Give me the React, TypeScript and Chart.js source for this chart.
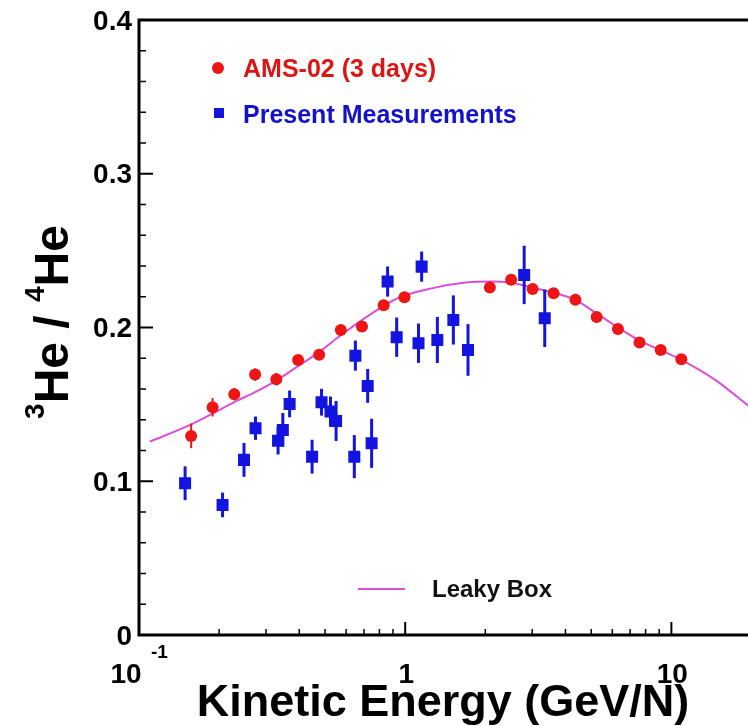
import React, { useEffect, useRef } from 'react';
import { Chart, registerables } from 'chart.js';

Chart.register(...registerables);

const FONT = '"Liberation Sans", Arial, Helvetica, sans-serif';

// AMS-02 (3 days): kinetic energy per nucleon (GeV/N), 3He/4He ratio, error
const amsEnergy = [0.157, 0.189, 0.228, 0.273, 0.328, 0.396, 0.475, 0.573, 0.688, 0.830, 0.994, 2.08, 2.50, 3.01, 3.61, 4.36, 5.24, 6.30, 7.59, 9.12, 10.9];
const amsRatio = [0.1295, 0.1481, 0.1566, 0.1694, 0.1664, 0.1789, 0.1822, 0.1984, 0.2006, 0.2145, 0.2197, 0.2260, 0.2310, 0.2251, 0.2223, 0.2180, 0.2069, 0.1991, 0.1902, 0.1854, 0.1794];
const amsError = [0.008, 0.006, 0.004, 0.004, 0.004, 0.003, 0.003, 0.003, 0.003, 0.003, 0.003, 0.003, 0.003, 0.003, 0.003, 0.003, 0.003, 0.003, 0.003, 0.003, 0.003];

// Present measurements
const presentEnergy = [0.149, 0.206, 0.248, 0.274, 0.333, 0.347, 0.368, 0.447, 0.485, 0.524, 0.550, 0.650, 0.644, 0.723, 0.748, 0.859, 0.929, 1.153, 1.122, 1.321, 1.517, 1.722, 2.799, 3.344];
const presentRatio = [0.0987, 0.0846, 0.1139, 0.1345, 0.1264, 0.1334, 0.1503, 0.1160, 0.1514, 0.1453, 0.1392, 0.1817, 0.1160, 0.1620, 0.1247, 0.2299, 0.1937, 0.2396, 0.1898, 0.1919, 0.2049, 0.1854, 0.2342, 0.2060];
const presentError = [0.011, 0.008, 0.011, 0.0076, 0.009, 0.011, 0.0087, 0.011, 0.0087, 0.0098, 0.013, 0.0098, 0.014, 0.011, 0.016, 0.0098, 0.0128, 0.0098, 0.0128, 0.015, 0.016, 0.0168, 0.019, 0.0187];

// Leaky Box model curve
const leakyEnergy = [0.110, 0.155, 0.189, 0.228, 0.273, 0.328, 0.397, 0.475, 0.573, 0.830, 0.950, 1.27, 1.69, 2.12, 2.52, 3.26, 4.36, 5.33, 7.52, 10.9, 14.6, 20];
const leakyRatio = [0.1258, 0.1365, 0.1440, 0.1515, 0.1580, 0.1655, 0.1750, 0.1840, 0.1950, 0.2140, 0.2195, 0.2256, 0.2292, 0.2299, 0.2290, 0.2245, 0.2180, 0.2082, 0.1919, 0.1789, 0.1659, 0.1475];

// Axis ticks
const yMajorTicks = [0, 0.1, 0.2, 0.3, 0.4];
const yTickLabels = ['0', '0.1', '0.2', '0.3', '0.4'];
const yMinorTicks = [0.02, 0.04, 0.06, 0.08, 0.12, 0.14, 0.16, 0.18, 0.22, 0.24, 0.26, 0.28, 0.32, 0.34, 0.36, 0.38];
const xMajorTicks = [0.1, 1, 10];
const xTickBase = ['10', '1', '10'];
const xTickExponent = ['-1', '', ''];
const xMinorTicks = [0.2, 0.3, 0.4, 0.5, 0.6, 0.7, 0.8, 0.9, 2, 3, 4, 5, 6, 7, 8, 9, 20];

const RED = '#ee1515';
const BLUE = '#1414e0';
const MAGENTA = '#d94fd9';

const errorSets: Record<number, { err: number[]; color: string; width: number }> = {
  0: { err: amsError, color: RED, width: 2 },
  1: { err: presentError, color: BLUE, width: 3 },
};

const decorations = {
  id: 'decorations',
  beforeDatasetDraw(chart: any, args: any) {
    const set = errorSets[args.index];
    if (!set) return;
    const { ctx } = chart;
    const xs = chart.scales.x;
    const ys = chart.scales.y;
    const data = chart.data.datasets[args.index].data as { x: number; y: number }[];
    ctx.save();
    ctx.strokeStyle = set.color;
    ctx.lineWidth = set.width;
    data.forEach((p, k) => {
      const px = xs.getPixelForValue(p.x);
      ctx.beginPath();
      ctx.moveTo(px, ys.getPixelForValue(p.y - set.err[k]));
      ctx.lineTo(px, ys.getPixelForValue(p.y + set.err[k]));
      ctx.stroke();
    });
    ctx.restore();
  },
  afterDraw(chart: any) {
    const { ctx, chartArea } = chart;
    const { left, right, top, bottom } = chartArea;
    const xs = chart.scales.x;
    const ys = chart.scales.y;
    ctx.save();

    // frame
    ctx.strokeStyle = '#000';
    ctx.lineWidth = 3;
    ctx.beginPath();
    ctx.moveTo(right + 10, top);
    ctx.lineTo(left, top);
    ctx.lineTo(left, bottom);
    ctx.lineTo(right + 10, bottom);
    ctx.stroke();

    // y ticks
    ctx.lineWidth = 2;
    yMajorTicks.forEach((v) => {
      const py = ys.getPixelForValue(v);
      ctx.beginPath();
      ctx.moveTo(left, py);
      ctx.lineTo(left + 14, py);
      ctx.stroke();
    });
    ctx.lineWidth = 1.5;
    yMinorTicks.forEach((v) => {
      const py = ys.getPixelForValue(v);
      ctx.beginPath();
      ctx.moveTo(left, py);
      ctx.lineTo(left + 7, py);
      ctx.stroke();
    });

    // x ticks
    ctx.lineWidth = 2;
    xMajorTicks.forEach((v) => {
      const px = xs.getPixelForValue(v);
      ctx.beginPath();
      ctx.moveTo(px, bottom);
      ctx.lineTo(px, bottom - 13);
      ctx.stroke();
    });
    ctx.lineWidth = 1.5;
    xMinorTicks.forEach((v) => {
      const px = xs.getPixelForValue(v);
      ctx.beginPath();
      ctx.moveTo(px, bottom);
      ctx.lineTo(px, bottom - 6);
      ctx.stroke();
    });

    ctx.fillStyle = '#000';

    // y tick labels
    ctx.font = `bold 28px ${FONT}`;
    ctx.textAlign = 'right';
    ctx.textBaseline = 'middle';
    yMajorTicks.forEach((v, i) => {
      ctx.fillText(yTickLabels[i], left - 7, ys.getPixelForValue(v) + 2);
    });

    // x tick labels
    ctx.textBaseline = 'alphabetic';
    xMajorTicks.forEach((v, i) => {
      const px = xs.getPixelForValue(v);
      ctx.font = `bold 28px ${FONT}`;
      if (xTickExponent[i]) {
        ctx.textAlign = 'center';
        ctx.fillText(xTickBase[i], px - 13, 683);
        ctx.font = `bold 19px ${FONT}`;
        ctx.textAlign = 'left';
        ctx.fillText(xTickExponent[i], px + 12, 658);
      } else {
        ctx.textAlign = 'center';
        ctx.fillText(xTickBase[i], px + 1, 683);
      }
    });

    // x axis title
    ctx.font = `bold 45px ${FONT}`;
    ctx.textAlign = 'center';
    ctx.fillText('Kinetic Energy (GeV/N)', 443, 716);

    // y axis title: 3He / 4He
    ctx.save();
    ctx.translate(68, 322);
    ctx.rotate(-Math.PI / 2);
    const mainFont = `bold 48px ${FONT}`;
    const supFont = `bold 28px ${FONT}`;
    const parts: [string, boolean][] = [['3', true], ['He / ', false], ['4', true], ['He', false]];
    const widths = parts.map(([t, sup]) => {
      ctx.font = sup ? supFont : mainFont;
      return ctx.measureText(t).width;
    });
    let cx = -widths.reduce((a, b) => a + b, 0) / 2;
    ctx.textAlign = 'left';
    parts.forEach(([t, sup], i) => {
      ctx.font = sup ? supFont : mainFont;
      ctx.fillText(t, cx, sup ? -24 : 0);
      cx += widths[i];
    });
    ctx.restore();

    // legend
    ctx.textAlign = 'left';
    ctx.fillStyle = RED;
    ctx.beginPath();
    ctx.arc(218, 68, 6, 0, Math.PI * 2);
    ctx.fill();
    ctx.fillStyle = '#dd1515';
    ctx.font = `bold 25px ${FONT}`;
    ctx.fillText('AMS-02 (3 days)', 243, 77);

    ctx.fillStyle = BLUE;
    ctx.fillRect(214, 108, 10, 10);
    ctx.fillStyle = '#1212cc';
    ctx.fillText('Present Measurements', 243, 123);

    ctx.strokeStyle = MAGENTA;
    ctx.lineWidth = 2;
    ctx.beginPath();
    ctx.moveTo(358, 589);
    ctx.lineTo(405, 589);
    ctx.stroke();
    ctx.fillStyle = '#111';
    ctx.font = `bold 24px ${FONT}`;
    ctx.fillText('Leaky Box', 432, 597);

    ctx.restore();
  },
};

export default function App() {
  const ref = useRef<HTMLCanvasElement | null>(null);

  useEffect(() => {
    if (!ref.current) return;
    const chart = new Chart(ref.current, {
      type: 'scatter',
      data: {
        datasets: [
          {
            label: 'AMS-02 (3 days)',
            data: amsEnergy.map((x, i) => ({ x, y: amsRatio[i] })),
            backgroundColor: RED,
            pointStyle: 'circle',
            pointRadius: 6,
            pointBorderWidth: 0,
            order: 2,
          },
          {
            label: 'Present Measurements',
            data: presentEnergy.map((x, i) => ({ x, y: presentRatio[i] })),
            backgroundColor: BLUE,
            pointStyle: 'rect',
            pointRadius: 8.5,
            pointBorderWidth: 0,
            order: 1,
          },
          {
            type: 'line',
            label: 'Leaky Box',
            data: leakyEnergy.map((x, i) => ({ x, y: leakyRatio[i] })),
            borderColor: MAGENTA,
            borderWidth: 2,
            pointRadius: 0,
            showLine: true,
            fill: false,
            cubicInterpolationMode: 'monotone',
            order: 3,
          } as any,
        ],
      },
      options: {
        responsive: false,
        animation: false,
        events: [],
        layout: { padding: { left: 0, top: 20, right: 7, bottom: 0 } },
        plugins: { legend: { display: false }, tooltip: { enabled: false } },
        scales: {
          x: {
            type: 'logarithmic',
            min: 0.1,
            max: 20,
            grid: { display: false },
            border: { display: false },
            ticks: { display: false },
            afterFit: (scale: any) => {
              scale.height = 91;
            },
          },
          y: {
            type: 'linear',
            min: 0,
            max: 0.4,
            grid: { display: false },
            border: { display: false },
            ticks: { display: false },
            afterFit: (scale: any) => {
              scale.width = 139;
            },
          },
        },
      },
      plugins: [decorations],
    });
    return () => chart.destroy();
  }, []);

  return (
    <div style={{ position: 'fixed', left: 0, top: 0, width: 748, height: 726, overflow: 'hidden', background: '#fff' }}>
      <canvas ref={ref} width={760} height={726} style={{ width: 760, height: 726, display: 'block' }} />
    </div>
  );
}
